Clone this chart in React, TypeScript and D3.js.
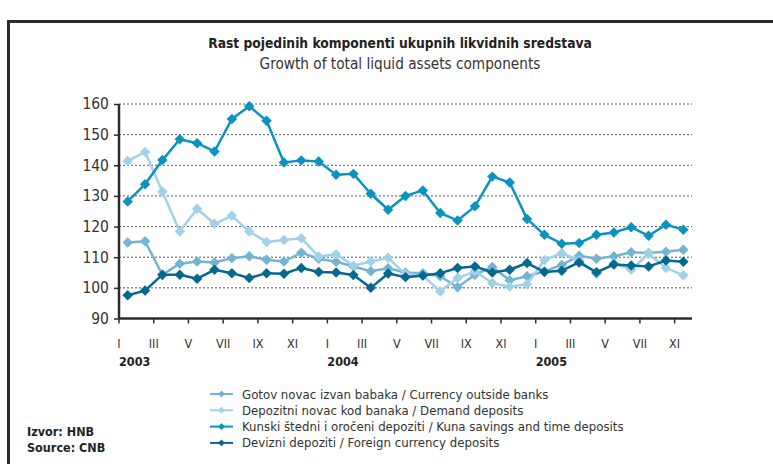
import { useEffect, useRef } from 'react';
import * as d3 from 'd3';

const months = d3.range(33); // Jan 2003 .. Sep 2005
const tickLabels = ['I', 'III', 'V', 'VII', 'IX', 'XI', 'I', 'III', 'V', 'VII', 'IX', 'XI', 'I', 'III', 'V', 'VII', 'XI'];
const years = [{ label: '2003', tick: 0 }, { label: '2004', tick: 6 }, { label: '2005', tick: 12 }];
const yTicks = [90, 100, 110, 120, 130, 140, 150, 160];

const currency = [114.8, 115.2, 104.3, 107.9, 108.6, 108.3, 109.7, 110.3, 109.2, 108.6, 111.5, 109.5, 108.5, 107.0, 105.4, 106.4, 105.0, 104.8, 103.8, 100.2, 104.3, 106.8, 102.5, 103.8, 105.4, 107.5, 110.5, 109.5, 110.3, 111.6, 111.4, 111.8, 112.4];
const demand = [141.4, 144.3, 131.4, 118.4, 125.8, 120.9, 123.5, 118.4, 115.0, 115.6, 116.2, 110.2, 111.0, 107.2, 108.6, 109.8, 104.5, 104.0, 98.8, 103.2, 105.4, 101.6, 100.4, 101.2, 109.1, 111.3, 109.0, 104.5, 108.1, 105.9, 111.2, 106.5, 104.1];
const kuna = [128.2, 133.8, 141.7, 148.5, 147.2, 144.5, 155.1, 159.3, 154.5, 140.9, 141.6, 141.2, 136.9, 137.2, 130.7, 125.5, 130.0, 131.8, 124.4, 122.0, 126.6, 136.3, 134.4, 122.5, 117.3, 114.4, 114.6, 117.3, 118.1, 119.8, 117.0, 120.6, 119.0];
const foreign = [97.6, 99.1, 104.3, 104.3, 103.0, 105.9, 104.8, 103.2, 104.8, 104.6, 106.5, 105.2, 105.0, 104.2, 100.0, 104.7, 103.5, 104.0, 104.8, 106.5, 107.0, 105.0, 105.9, 108.1, 105.2, 105.6, 108.3, 105.1, 107.6, 107.3, 107.0, 108.9, 108.5];

const seriesNames = [
  'Gotov novac izvan babaka / Currency outside banks',
  'Depozitni novac kod banaka / Demand deposits',
  'Kunski štedni i oročeni depoziti / Kuna savings and time deposits',
  'Devizni depoziti / Foreign currency deposits',
];
const seriesColors = ['#74b4d3', '#a0d1e8', '#0a93bf', '#05698f'];
const seriesData = [currency, demand, kuna, foreign];

const FONT = '"Liberation Sans Narrow", "DejaVu Sans Condensed", Lato, sans-serif';

const App = () => {
  const ref = useRef<HTMLDivElement>(null);

  useEffect(() => {
    const width = 773;
    const height = 464;
    const plot = { left: 119, right: 692, top: 104, bottom: 318.5 };

    d3.select(ref.current).select('svg').remove();

    const svg = d3.select(ref.current)
      .append('svg')
      .attr('width', width)
      .attr('height', height)
      .style('display', 'block')
      .style('font-family', FONT);

    svg.append('rect').attr('width', width).attr('height', height).attr('fill', '#fff');

    // frame (only top and left edges fall inside the picture)
    svg.append('path')
      .attr('d', `M8.5,${height + 5}V21.5H${width + 5}`)
      .attr('fill', 'none')
      .attr('stroke', '#2b2b2b')
      .attr('stroke-width', 3);

    // titles
    svg.append('text')
      .attr('x', 400).attr('y', 48)
      .attr('text-anchor', 'middle')
      .attr('font-weight', 'bold').attr('font-size', 13.7)
      .attr('fill', '#222')
      .text('Rast pojedinih komponenti ukupnih likvidnih sredstava');
    svg.append('text')
      .attr('x', 400).attr('y', 69)
      .attr('text-anchor', 'middle')
      .attr('font-size', 15.2)
      .attr('fill', '#333')
      .text('Growth of total liquid assets components');

    const x = d3.scaleBand<number>().domain(months).range([plot.left, plot.right]);
    const y = d3.scaleLinear().domain([90, 160]).range([plot.bottom, plot.top]);
    const cx = (i: number) => (x(i) as number) + x.bandwidth() / 2;

    // grid
    svg.append('g')
      .selectAll('line')
      .data(yTicks.filter(d => d > 90))
      .join('line')
      .attr('x1', plot.left).attr('x2', plot.right)
      .attr('y1', d => y(d)).attr('y2', d => y(d))
      .attr('stroke', '#555')
      .attr('stroke-width', 1)
      .attr('stroke-dasharray', '2,2');

    // y axis
    const yAxis = svg.append('g')
      .attr('transform', `translate(${plot.left},0)`)
      .call(d3.axisLeft(y).tickValues(yTicks).tickSize(5).tickPadding(5));
    yAxis.select('.domain').attr('stroke', '#2b2b2b').attr('stroke-width', 2.5).attr('d', `M0,${plot.top}V${plot.bottom}`);
    yAxis.selectAll('.tick line').attr('stroke', '#2b2b2b').attr('stroke-width', 1.5);
    yAxis.selectAll('.tick text')
      .attr('font-family', FONT)
      .attr('font-size', 15.5)
      .attr('fill', '#333');

    // x axis
    const tickPos = tickLabels.map((_, k) => x(k * 2) as number);
    svg.append('line')
      .attr('x1', plot.left).attr('x2', plot.right)
      .attr('y1', plot.bottom).attr('y2', plot.bottom)
      .attr('stroke', '#2b2b2b').attr('stroke-width', 2.5);
    svg.append('g')
      .selectAll('line')
      .data(tickPos)
      .join('line')
      .attr('x1', d => d).attr('x2', d => d)
      .attr('y1', plot.bottom).attr('y2', plot.bottom + 5)
      .attr('stroke', '#2b2b2b').attr('stroke-width', 1.5);
    svg.append('g')
      .selectAll('text')
      .data(tickLabels)
      .join('text')
      .attr('x', (_, k) => tickPos[k])
      .attr('y', 348)
      .attr('text-anchor', 'middle')
      .attr('font-size', 12.5)
      .attr('fill', '#333')
      .text(d => d);
    svg.append('g')
      .selectAll('text')
      .data(years)
      .join('text')
      .attr('x', d => tickPos[d.tick])
      .attr('y', 366)
      .attr('font-size', 12.5)
      .attr('font-weight', 'bold')
      .attr('fill', '#222')
      .text(d => d.label);

    // series
    const line = d3.line<number>()
      .x((_, i) => cx(i))
      .y(d => y(d));
    const diamond = d3.symbol().type(d3.symbolDiamond2).size(70)();

    seriesData.forEach((values, s) => {
      const g = svg.append('g');
      g.append('path')
        .datum(values)
        .attr('fill', 'none')
        .attr('stroke', seriesColors[s])
        .attr('stroke-width', 2.5)
        .attr('stroke-linejoin', 'round')
        .attr('d', line);
      g.selectAll('path.pt')
        .data(values)
        .join('path')
        .attr('class', 'pt')
        .attr('transform', (d, i) => `translate(${cx(i)},${y(d)})`)
        .attr('d', diamond)
        .attr('fill', seriesColors[s]);
    });

    // legend
    const legend = svg.append('g').attr('transform', 'translate(210,394)');
    seriesNames.forEach((name, s) => {
      const row = legend.append('g').attr('transform', `translate(0,${s * 16.3})`);
      row.append('line')
        .attr('x1', 0).attr('x2', 23)
        .attr('stroke', seriesColors[s]).attr('stroke-width', 2);
      row.append('path')
        .attr('transform', 'translate(11.5,0)')
        .attr('d', d3.symbol().type(d3.symbolDiamond2).size(30)())
        .attr('fill', seriesColors[s]);
      row.append('text')
        .attr('x', 32).attr('y', 4.5)
        .attr('font-size', 13.1)
        .attr('fill', '#333')
        .text(name);
    });

    // source
    svg.append('text')
      .attr('x', 27).attr('y', 436)
      .attr('font-size', 12.5).attr('font-weight', 'bold').attr('fill', '#222')
      .text('Izvor: HNB');
    svg.append('text')
      .attr('x', 27).attr('y', 452)
      .attr('font-size', 12.5).attr('font-weight', 'bold').attr('fill', '#222')
      .text('Source: CNB');
  }, []);

  return <div ref={ref} style={{ position: 'absolute', left: 0, top: 0 }} />;
};

export default App;
